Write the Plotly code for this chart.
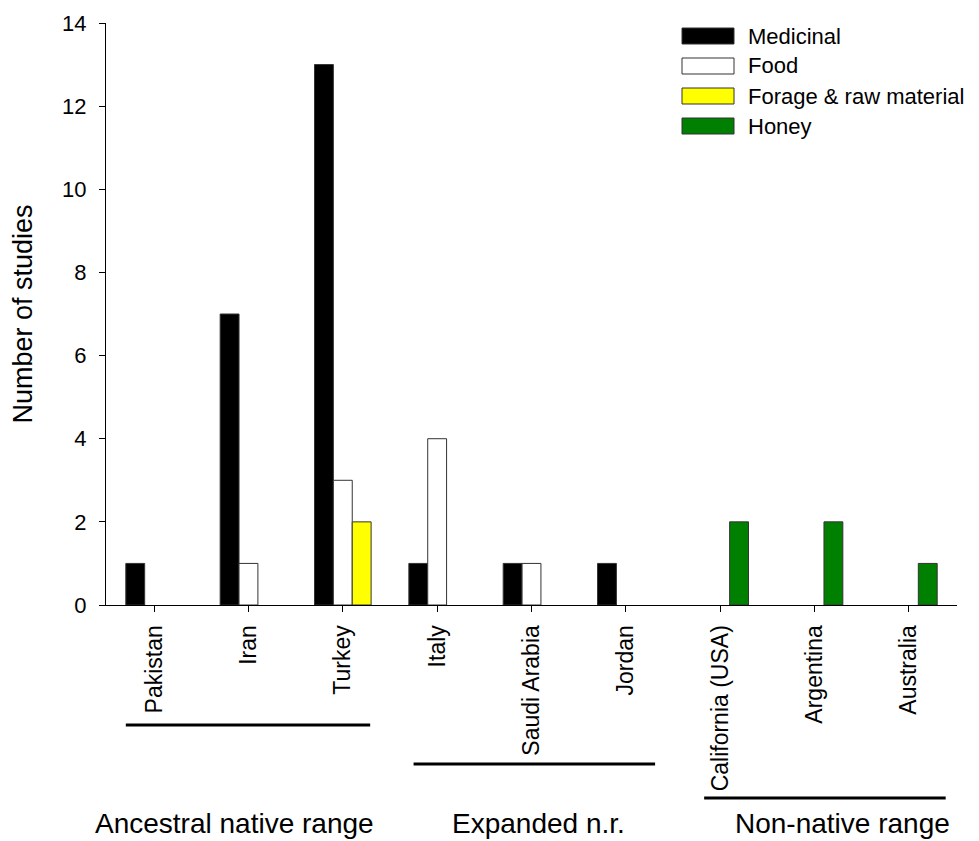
import plotly.graph_objects as go

countries = ["Pakistan", "Iran", "Turkey", "Italy", "Saudi Arabia", "Jordan",
             "California (USA)", "Argentina", "Australia"]
medicinal = [1, 7, 13, 1, 1, 1, 0, 0, 0]
food = [0, 1, 3, 4, 1, 0, 0, 0, 0]
forage = [0, 0, 2, 0, 0, 0, 0, 0, 0]
honey = [0, 0, 0, 0, 0, 0, 2, 2, 1]

series_names = ["Medicinal", "Food", "Forage & raw material", "Honey"]
series_values = [medicinal, food, forage, honey]
series_colors = ["#000000", "#FFFFFF", "#FFFF00", "#008000"]
series_offsets = [-0.3, -0.1, 0.1, 0.1]

groups = ["Ancestral native range", "Expanded n.r.", "Non-native range"]
group_spans = [(-0.3, 2.29), (2.75, 5.31), (5.83, 8.39)]
group_line_y = [-0.2062, -0.2732, -0.3316]
group_label_x = [0.85, 4.07, 7.30]

# page body has an 8px margin; figure is sized/offset to compensate
OFF = 8
W, H = 979 - OFF, 841 - OFF
L, R, T, B = 106 - OFF, 22, 23 - OFF, 236
plot_w = W - L - R
plot_h = H - T - B

fig = go.Figure()
for name, vals, col, off in zip(series_names, series_values, series_colors, series_offsets):
    fig.add_trace(go.Bar(
        x=countries, y=[v if v else None for v in vals], name=name,
        marker=dict(color=col, line=dict(color="#333333", width=1)),
        width=0.2, offset=off, showlegend=False,
    ))

shapes = []
annotations = []
for g, (x0, x1), ly, lx in zip(groups, group_spans, group_line_y, group_label_x):
    shapes.append(dict(type="line", xref="x", yref="paper", x0=x0, x1=x1, y0=ly, y1=ly,
                       line=dict(color="black", width=3)))
    annotations.append(dict(text=g, xref="x", yref="paper", x=lx, y=(605 - 823.5) / plot_h,
                            xanchor="center", yanchor="middle", showarrow=False,
                            font=dict(size=28, color="black", family="Liberation Sans, Arial")))

# custom legend (swatches + labels); positions given in reference-picture pixels
def px_x(px):
    return (px - OFF - L) / plot_w

def px_y(py):
    return (T + plot_h - (py - OFF)) / plot_h

row_centers = [36, 66, 96, 126]
for name, col, cy in zip(series_names, series_colors, row_centers):
    shapes.append(dict(type="rect", xref="paper", yref="paper",
                       x0=px_x(682), x1=px_x(734), y0=px_y(cy + 8), y1=px_y(cy - 8),
                       fillcolor=col, line=dict(color="#333333", width=1)))
    annotations.append(dict(text=name, xref="paper", yref="paper", x=px_x(746), y=px_y(cy),
                            xanchor="left", yanchor="middle", showarrow=False,
                            font=dict(size=22, color="black", family="Liberation Sans, Arial")))

fig.update_layout(
    width=W, height=H,
    margin=dict(l=L, r=R, t=T, b=B, autoexpand=False),
    paper_bgcolor="white", plot_bgcolor="white",
    barmode="overlay",
    font=dict(family="Liberation Sans, Arial", color="black", size=22),
    shapes=shapes, annotations=annotations,
    xaxis=dict(type="category", range=[-0.51, 8.51], showline=True, linecolor="black",
               linewidth=1, ticks="outside", ticklen=6, tickcolor="black", tickangle=-90,
               tickfont=dict(size=23), showgrid=False, zeroline=False,
               ticklabelstandoff=4, automargin=False),
    yaxis=dict(range=[0, 14], dtick=2, showline=True, linecolor="black", linewidth=1,
               ticks="outside", ticklen=6, tickcolor="black", tickfont=dict(size=22),
               showgrid=False, zeroline=False, automargin=False, ticklabelstandoff=8,
               title=dict(text="Number of studies", font=dict(size=27), standoff=26)),
)

fig.write_html("out.html")
